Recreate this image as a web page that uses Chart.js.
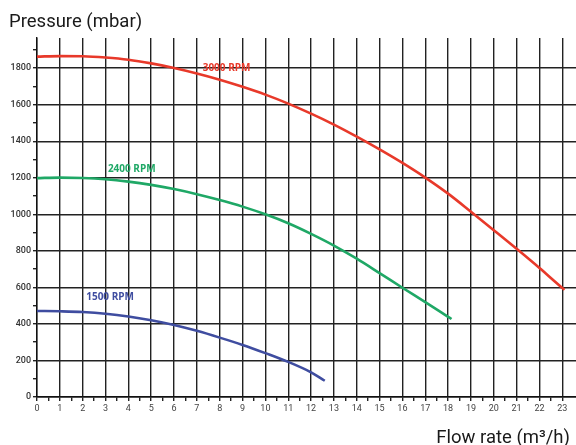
<!DOCTYPE html>
<html>
<head>
<meta charset="utf-8">
<script src="https://cdn.jsdelivr.net/npm/chart.js@4"></script>
<style>
  html, body { margin: 0; padding: 0; background: #fff; }
  #wrap { width: 576px; height: 445px; }
</style>
</head>
<body>
<div id="wrap"><canvas id="pumpChart"></canvas></div>
<script>
// Pump curves (flow m3/h -> pressure mbar)
const flow3000 = [0, 1, 2, 3, 4, 5, 6, 7, 8, 9, 10, 11, 12, 13, 14, 15, 16, 17, 18, 19, 20, 21, 22, 23, 23.1];
const press3000 = [1863, 1866, 1865, 1858, 1846, 1826, 1801, 1771, 1737, 1698, 1655, 1606, 1551, 1491, 1425, 1355, 1281, 1201, 1113, 1014, 913, 811, 706, 597, 587];

const flow2400 = [0, 1, 2, 3, 4, 5, 6, 7, 8, 9, 10, 11, 12, 13, 14, 15, 16, 17, 18, 18.15];
const press2400 = [1198, 1201, 1199, 1192, 1179, 1161, 1138, 1110, 1078, 1042, 1000, 951, 893, 829, 757, 678, 598, 519, 439, 427];

const flow1500 = [0, 1, 2, 3, 4, 5, 6, 7, 8, 9, 10, 11, 12, 12.6];
const press1500 = [471, 469, 465, 456, 441, 420, 394, 362, 325, 285, 240, 192, 135, 89];

const curveNames = ['3000 RPM', '2400 RPM', '1500 RPM'];
const curveColors = ['#e8392a', '#1fa866', '#3f4da0'];
// where each curve name sits (data units)
const nameX = [8.3, 4.15, 3.2];
const nameY = [1802, 1245, 546];

const xMax = 23.6;
const yMax = 1965;

function toPoints(xs, ys) {
    return xs.map((x, i) => ({ x: x, y: ys[i] }));
}

const curves = [
    toPoints(flow3000, press3000),
    toPoints(flow2400, press2400),
    toPoints(flow1500, press1500)
];

// Draws the RPM names and the two axis titles
const labelsPlugin = {
    id: 'pumpLabels',
    afterDatasetsDraw(chart) {
        const ctx = chart.ctx;
        const xs = chart.scales.x;
        const ys = chart.scales.y;
        ctx.save();
        ctx.font = "bold 10px 'Open Sans', sans-serif";
        ctx.textAlign = 'center';
        ctx.textBaseline = 'middle';
        curveNames.forEach((name, i) => {
            ctx.fillStyle = curveColors[i];
            ctx.fillText(name, xs.getPixelForValue(nameX[i]), ys.getPixelForValue(nameY[i]));
        });
        ctx.fillStyle = '#1a1a1a';
        ctx.font = "18.5px Roboto, sans-serif";
        ctx.textBaseline = 'alphabetic';
        ctx.textAlign = 'left';
        ctx.fillText('Pressure (mbar)', 9, 27);
        ctx.textAlign = 'right';
        ctx.fillText('Flow rate (m³/h)', 570, 443);
        ctx.restore();
    }
};

const gridColor = '#222';

new Chart(document.getElementById('pumpChart').getContext('2d'), {
    type: 'line',
    data: {
        datasets: curves.map((pts, i) => ({
            label: curveNames[i],
            data: pts,
            borderColor: curveColors[i],
            borderWidth: 2.6,
            pointRadius: 0,
            fill: false,
            cubicInterpolationMode: 'monotone'
        }))
    },
    options: {
        responsive: true,
        maintainAspectRatio: false,
        animation: false,
        layout: {
            padding: { top: 38, left: 0, right: 0, bottom: 26 }
        },
        scales: {
            x: {
                type: 'linear',
                min: 0,
                max: xMax,
                afterBuildTicks: scale => {
                    scale.ticks = scale.ticks.filter(t => Math.abs(t.value * 2 - Math.round(t.value * 2)) < 1e-6);
                },
                afterFit: scale => { scale.height = 22; },
                ticks: {
                    stepSize: 0.5,
                    autoSkip: false,
                    maxRotation: 0,
                    padding: 2,
                    color: '#444',
                    font: { family: 'Roboto, sans-serif', size: 9 },
                    callback: v => Number.isInteger(v) ? String(v) : ''
                },
                grid: {
                    color: c => (c.tick && Number.isInteger(c.tick.value)) ? gridColor : 'rgba(0,0,0,0)',
                    tickColor: gridColor,
                    tickLength: 4,
                    lineWidth: 1.4
                },
                border: { color: '#111', width: 1.4 }
            },
            y: {
                type: 'linear',
                min: 0,
                max: yMax,
                afterBuildTicks: scale => {
                    scale.ticks = scale.ticks.filter(t => t.value % 100 === 0);
                },
                afterFit: scale => { scale.width = 37; },
                ticks: {
                    stepSize: 100,
                    autoSkip: false,
                    padding: 2,
                    color: '#333',
                    font: { family: 'Roboto, sans-serif', size: 9, weight: '500' },
                    callback: v => (v % 200 === 0) ? String(v) : ''
                },
                grid: {
                    color: c => (c.tick && c.tick.value % 200 === 0) ? gridColor : 'rgba(0,0,0,0)',
                    tickColor: gridColor,
                    tickLength: 4,
                    lineWidth: 1.4
                },
                border: { color: '#111', width: 1.4 }
            }
        },
        plugins: {
            legend: { display: false },
            tooltip: { enabled: false }
        }
    },
    plugins: [labelsPlugin]
});
</script>
</body>
</html>
